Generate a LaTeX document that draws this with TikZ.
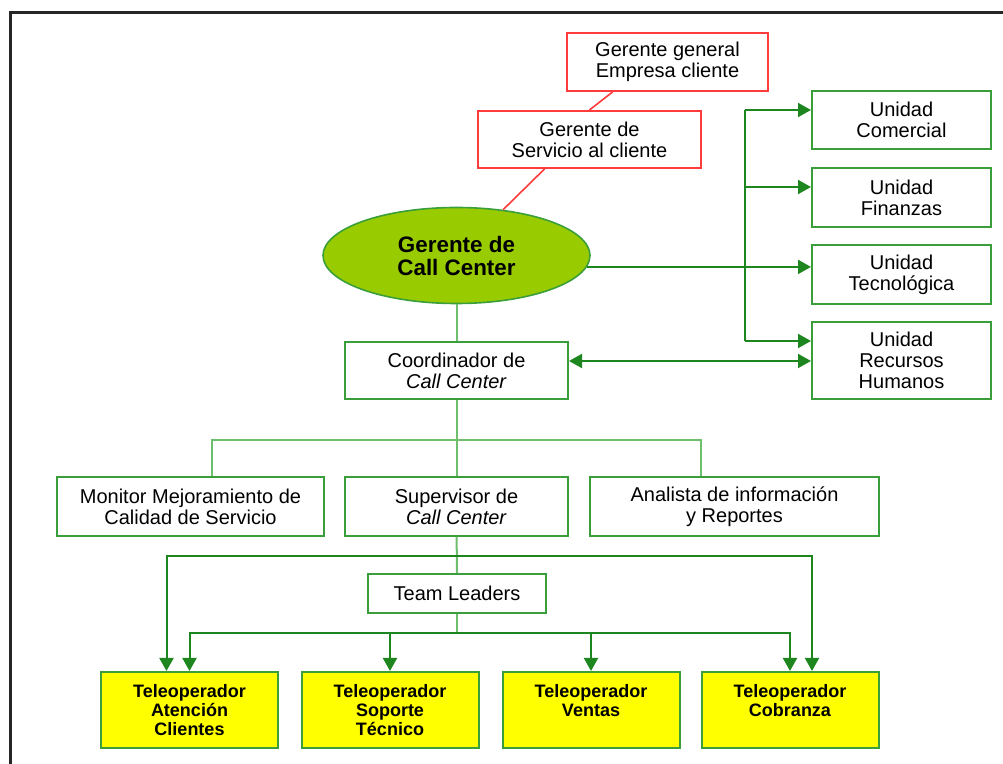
\documentclass[tikz,border=0pt]{standalone}
\usepackage{fontspec}
\setmainfont{Liberation Sans}
\usetikzlibrary{arrows.meta,calc,shapes.geometric}

\definecolor{boxgreen}{HTML}{3A9E3A}
\definecolor{linegreen}{HTML}{6DBE6D}
\definecolor{arrgreen}{HTML}{1E861E}
\definecolor{boxred}{HTML}{FF3B3B}
\definecolor{leafgreen}{HTML}{99CC00}
\definecolor{telyellow}{HTML}{FFFF00}

\tikzset{
  gbox/.style={draw=boxgreen, line width=1pt, inner sep=0pt, align=center,
    font=\fontsize{10}{10.5}\selectfont},
  rbox/.style={draw=boxred, line width=1pt, inner sep=0pt, align=center,
    font=\fontsize{10}{10.5}\selectfont},
  telebox/.style={gbox, fill=telyellow, minimum width=88.5pt, minimum height=38pt,
    font=\fontsize{9}{9.5}\selectfont\bfseries},
  gline/.style={draw=linegreen, line width=1pt},
  arr/.style={draw=arrgreen, line width=1pt, -{Triangle[length=6.5pt,width=7pt]}},
  darr/.style={draw=arrgreen, line width=1pt,
    {Triangle[length=6.5pt,width=7pt]}-{Triangle[length=6.5pt,width=7pt]}},
}

\begin{document}
\begin{tikzpicture}[x=0.5pt, y=-0.5pt]
\useasboundingbox (0,0) rectangle (1003,764);
\draw[line width=1.5pt, black!85] (10,764) -- (10,13) -- (1003,13);

% top of the chart
\node[rbox, minimum width=100.5pt, minimum height=29pt] (ggen) at (667.5,62) {Gerente general\\Empresa cliente};
\node[rbox, minimum width=111.5pt, minimum height=28.5pt] (gserv) at (589.5,139.5) {Gerente de\\Servicio al cliente};
\node[ellipse, draw=boxgreen, fill=leafgreen, line width=0.8pt, inner sep=0pt,
  minimum width=133.5pt, minimum height=48pt, align=center,
  font=\fontsize{11.2}{11.5}\selectfont\bfseries] (gcc) at (456.5,255.5) {Gerente de\\Call Center};

% units
\node[gbox, minimum width=89.5pt, minimum height=29pt] (com) at (901.5,120) {Unidad\\Comercial};
\node[gbox, minimum width=89.5pt, minimum height=29.5pt] (fin) at (901.5,197.5) {Unidad\\Finanzas};
\node[gbox, minimum width=89.5pt, minimum height=29.5pt] (tec) at (901.5,274.5) {Unidad\\Tecnológica};
\node[gbox, minimum width=89.5pt, minimum height=38.5pt] (rrh) at (901.5,360.5) {Unidad\\Recursos\\Humanos};

% call center staff
\node[gbox, minimum width=111.5pt, minimum height=28.5pt] (coo) at (456.5,370.5) {Coordinador de\\\textit{Call Center}};
\node[gbox, minimum width=133.5pt, minimum height=29.5pt] (mon) at (190.5,506.5) {Monitor Mejoramiento de\\Calidad de Servicio};
\node[gbox, minimum width=111.5pt, minimum height=29.5pt] (sup) at (456.5,506.5) {Supervisor de\\\textit{Call Center}};
\node[gbox, minimum width=144.5pt, minimum height=29.5pt] (ana) at (734.5,506.5) {Analista de información\\y Reportes};
\node[gbox, minimum width=89pt, minimum height=19.5pt] (tl) at (457,593.5) {Team Leaders};

\node[telebox] (ate) at (189.5,710) {Teleoperador\\Atención\\Clientes};
\node[telebox] (sop) at (390,710) {Teleoperador\\Soporte\\Técnico};
\node[telebox] (ven) at (591,710) {Teleoperador\\Ventas\\\mbox{}};
\node[telebox] (cob) at (790,710) {Teleoperador\\Cobranza\\\mbox{}};

% red links
\draw[draw=boxred, line width=0.8pt] ($(ggen.south)+(-55,0)$) -- (gserv.north);
\draw[draw=boxred, line width=0.8pt] ($(gserv.south)+(-45,0)$) -- (gcc);

% links to the units
\coordinate (bus) at (745,0);
\coordinate (pc) at ($(com.north west)+(0,20)$);
\coordinate (pf) at ($(fin.north west)+(0,20)$);
\coordinate (pr) at ($(rrh.north west)+(0,20)$);
\coordinate (pd) at ($(coo.north east)+(0,20)$);
\draw[draw=arrgreen, line width=1pt] (bus |- pc) -- (bus |- pr);
\draw[arr] (bus |- pc) -- (pc);
\draw[arr] (bus |- pf) -- (pf);
\draw[arr] (bus |- pr) -- (pr);
\draw[arr] (gcc.-5) -- (gcc.-5 -| tec.west);
\draw[darr] (pd) -- (pd -| rrh.west);

% hierarchy
\draw[gline] (gcc) -- (coo);
\coordinate (j1) at ($(coo.south)+(0,40)$);
\draw[gline] (coo) -- (sup);
\draw[gline] ($(mon.north)+(21,0)$) |- (j1) -| ($(ana.north)+(-34,0)$);
\draw[gline] (sup) -- (tl);

\coordinate (j2) at ($(sup.south)+(0,19)$);
\draw[arr] (j2) -| ($(ate.north)+(-23,0)$);
\draw[arr] (j2) -| ($(cob.north)+(22,0)$);

\coordinate (j3) at ($(tl.south)+(0,19)$);
\draw[gline] (tl.south) -- (j3);
\draw[arr] (j3) -| (ate.north);
\draw[arr] (j3 -| sop.north) -- (sop.north);
\draw[arr] (j3 -| ven.north) -- (ven.north);
\draw[arr] (j3) -| (cob.north);
\end{tikzpicture}
\end{document}
